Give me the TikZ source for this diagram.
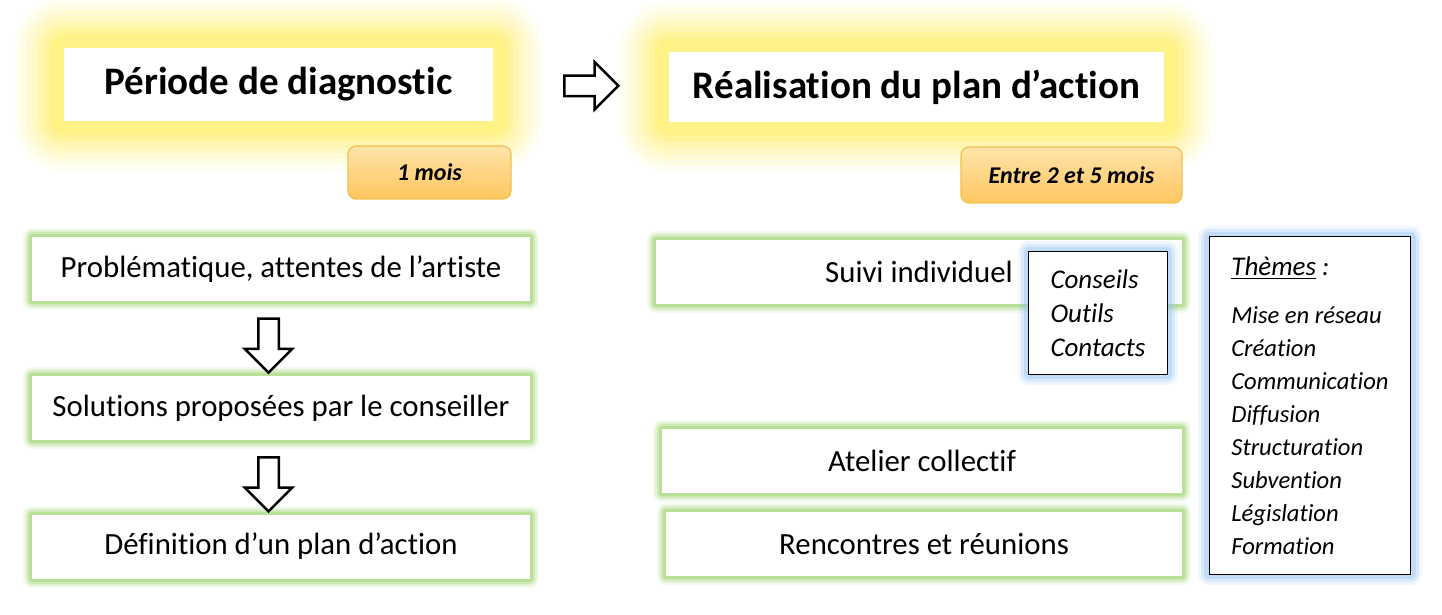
\documentclass[tikz,border=0pt]{standalone}
\usepackage{fontspec}
\setmainfont{Carlito}[Ligatures=NoCommon]
\usepackage{tikz}
\usetikzlibrary{positioning}
\usetikzlibrary{calc}
\usetikzlibrary{shapes.arrows}

\definecolor{glowyellow}{RGB}{255,238,100}
\definecolor{glowgreen}{RGB}{165,215,120}
\definecolor{glowblue}{RGB}{135,185,240}
\definecolor{dureetop}{RGB}{255,228,170}
\definecolor{dureebottom}{RGB}{255,198,95}
\definecolor{dureeborder}{RGB}{240,192,80}

\begin{document}
\begin{tikzpicture}[x=0.5pt, y=-0.5pt, node distance=37pt]
            \tikzstyle{phase}=[fill=white, inner sep=0pt, font=\fontsize{19.5}{23}\selectfont\bfseries,
              preaction={draw=glowyellow, line width=50pt, line join=round, opacity=0.08},
              preaction={draw=glowyellow, line width=44pt, line join=round, opacity=0.1},
              preaction={draw=glowyellow, line width=38pt, line join=round, opacity=0.12},
              preaction={draw=glowyellow, line width=32pt, line join=round, opacity=0.15},
              preaction={draw=glowyellow, line width=26pt, line join=round, opacity=0.2},
              preaction={draw=glowyellow, line width=20pt, line join=round, opacity=0.3},
              preaction={draw=glowyellow, line width=14pt, line join=round, opacity=0.35}]
            \tikzstyle{duree}=[draw=dureeborder, line width=0.6pt, rounded corners=4pt,
              top color=dureetop, bottom color=dureebottom, inner sep=0pt,
              font=\fontsize{12}{14}\selectfont\bfseries\itshape]
            \tikzstyle{etape}=[fill=white, inner sep=0pt, minimum height=32pt,
              font=\fontsize{15.4}{18}\selectfont,
              preaction={draw=glowgreen, line width=9pt, line join=round, opacity=0.12},
              preaction={draw=glowgreen, line width=7pt, line join=round, opacity=0.2},
              preaction={draw=glowgreen, line width=5pt, line join=round, opacity=0.35},
              preaction={draw=glowgreen, line width=3pt, line join=round, opacity=0.5}]
            \tikzstyle{liste}=[draw=black, line width=0.5pt, fill=white, align=left, inner xsep=11pt,
              preaction={draw=glowblue, line width=11pt, line join=round, opacity=0.12},
              preaction={draw=glowblue, line width=8pt, line join=round, opacity=0.2},
              preaction={draw=glowblue, line width=5pt, line join=round, opacity=0.3}]
            \tikzstyle{bigarrow}=[single arrow, draw=black, line width=1.25pt, fill=white, inner sep=0pt,
              minimum width=0pt, minimum height=27pt, single arrow head extend=6.75pt]

            \useasboundingbox (0,0) rectangle (1442,615);

            % phases
            \node[phase, minimum width=214.5pt, minimum height=36.5pt] (diag) at (278.5,84.5) {Période de diagnostic};
            \node[phase, minimum width=247.5pt, minimum height=35pt] (real) at (916.5,87) {Réalisation du plan d’action};
            \node[duree, minimum width=81.5pt, minimum height=26.5pt] (mois) at (429.5,172.5) {1 mois};
            \node[duree, minimum width=110.5pt, minimum height=28pt] (entre) at (1071.5,175) {Entre 2 et 5 mois};

            \node[bigarrow] (flechephase) at ($(diag.east)!0.53!(real.west)$) {\rule{0pt}{9pt}};

            % diagnostic
            \node[etape, minimum width=249pt] (prob) at (281,269) {Problématique, attentes de l’artiste};
            \node[etape, minimum width=249pt] (sol) [below=of prob] {Solutions proposées par le conseiller};
            \node[etape, minimum width=249pt] (def) [below=of sol] {Définition d’un plan d’action};

            \node[bigarrow, rotate=-90] (fleche1) at ($(prob.south)!0.5!(sol.north)+(-12.5,2)$) {\rule{0pt}{9pt}};
            \node[bigarrow, rotate=-90] (fleche2) at ($(sol.south)!0.5!(def.north)+(-12.5,2)$) {\rule{0pt}{9pt}};

            % plan d'action
            \node[etape, minimum width=263pt] (suivi) at (919,272) {Suivi individuel};
            \node[etape, minimum width=260pt] (atelier) at (922,461) {Atelier collectif};
            \node[etape, minimum width=258pt, xshift=1pt] (rencontres) [below=9pt of atelier] {Rencontres et réunions};

            \node[liste, minimum height=61pt, font=\fontsize{13.5}{17}\selectfont\itshape] (outils) at (1098,313)
              {Conseils\\Outils\\Contacts};
            \node[liste, minimum height=168.5pt, font=\fontsize{12.3}{16.5}\selectfont\itshape] (themes) at (1310,405.5)
              {{\fontsize{13.5}{16.5}\selectfont\underline{Thèmes} :}\\[7.5pt]
               Mise en réseau\\Création\\Communication\\Diffusion\\Structuration\\Subvention\\Législation\\Formation};
          \end{tikzpicture}
\end{document}
